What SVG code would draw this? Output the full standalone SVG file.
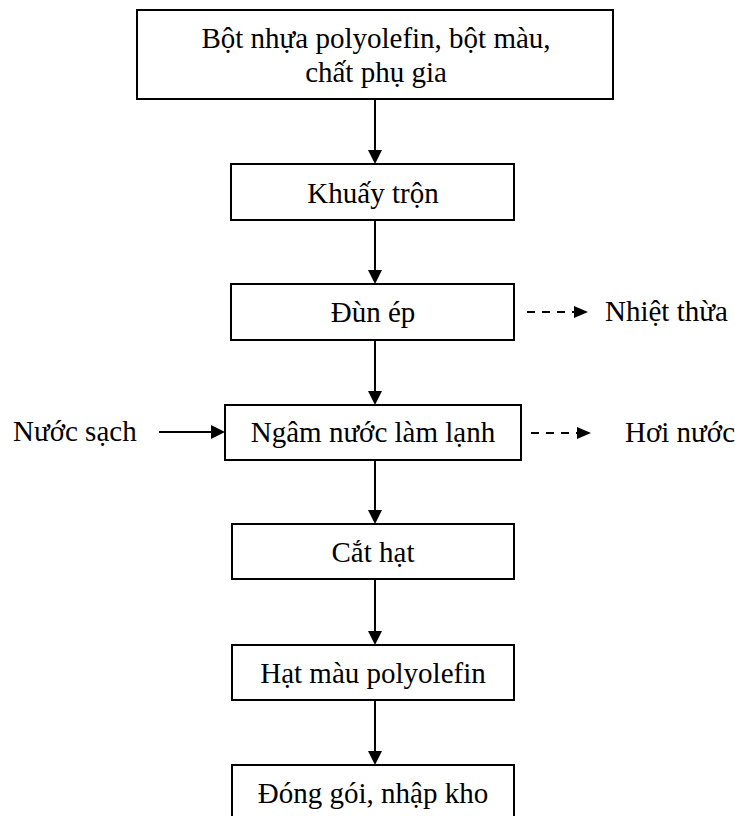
<svg xmlns="http://www.w3.org/2000/svg" width="735" height="816" viewBox="0 0 735 816">
<style>
.box{fill:#fff;stroke:#000;stroke-width:2}
.t{font-family:"Liberation Serif","Times New Roman",serif;font-size:29px;fill:#000;text-anchor:middle}
.tl{font-family:"Liberation Serif","Times New Roman",serif;font-size:29px;fill:#000}
.c{stroke:#000;stroke-width:2;fill:none}
.d{stroke:#000;stroke-width:2;fill:none;stroke-dasharray:8,7}
</style>
<defs>
<marker id="ah" markerUnits="userSpaceOnUse" markerWidth="14" markerHeight="14" refX="2" refY="7" orient="auto">
<path d="M0,0 L14,7 L0,14 z" fill="#000"/>
</marker>
<marker id="ahd" markerUnits="userSpaceOnUse" markerWidth="14" markerHeight="12" refX="2" refY="6" orient="auto">
<path d="M0,0 L14,6 L0,12 z" fill="#000"/>
</marker>
</defs>
<rect width="735" height="816" fill="#fff"/>
<g id="connectors">
<line class="c" x1="375" y1="99" x2="375" y2="152" marker-end="url(#ah)"/>
<line class="c" x1="375" y1="220" x2="375" y2="272" marker-end="url(#ah)"/>
<line class="c" x1="375" y1="340" x2="375" y2="393" marker-end="url(#ah)"/>
<line class="c" x1="375" y1="460" x2="375" y2="512" marker-end="url(#ah)"/>
<line class="c" x1="375" y1="579" x2="375" y2="633" marker-end="url(#ah)"/>
<line class="c" x1="375" y1="700" x2="375" y2="753" marker-end="url(#ah)"/>
<line class="c" x1="159" y1="432" x2="213" y2="432" marker-end="url(#ah)"/>
<line class="d" x1="527" y1="312" x2="576" y2="312" marker-end="url(#ahd)"/>
<line class="d" x1="531" y1="433" x2="579" y2="433" marker-end="url(#ahd)"/>
</g>
<g id="n-input">
<rect class="box" x="137" y="10" width="476" height="89"/>
<text class="t" x="376" y="48">Bột nhựa polyolefin, bột màu,</text>
<text class="t" x="376" y="82">chất phụ gia</text>
</g>
<g id="n-khuay">
<rect class="box" x="231" y="164" width="283" height="56"/>
<text class="t" x="373" y="203">Khuấy trộn</text>
</g>
<g id="n-dun">
<rect class="box" x="231" y="284" width="283" height="56"/>
<text class="t" x="373" y="322">Đùn ép</text>
</g>
<g id="n-ngam">
<rect class="box" x="225" y="405" width="296" height="55"/>
<text class="t" x="373" y="442">Ngâm nước làm lạnh</text>
</g>
<g id="n-cat">
<rect class="box" x="232" y="524" width="282" height="55"/>
<text class="t" x="373" y="562">Cắt hạt</text>
</g>
<g id="n-hat">
<rect class="box" x="232" y="645" width="282" height="55"/>
<text class="t" x="373" y="683">Hạt màu polyolefin</text>
</g>
<g id="n-dong">
<rect class="box" x="232" y="765" width="282" height="70"/>
<text class="t" x="373" y="803">Đóng gói, nhập kho</text>
</g>
<g id="n-nuoc">
<text class="tl" x="13" y="441">Nước sạch</text>
</g>
<g id="n-nhiet">
<text class="tl" x="605" y="321">Nhiệt thừa</text>
</g>
<g id="n-hoi">
<text class="tl" x="625" y="442">Hơi nước</text>
</g>
</svg>
